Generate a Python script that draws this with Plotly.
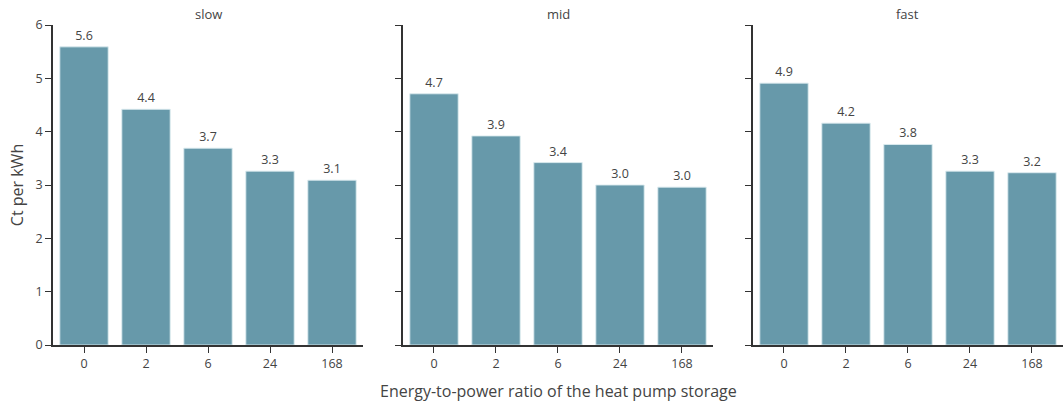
import plotly.graph_objects as go
from plotly.subplots import make_subplots

# Storage energy-to-power ratios (hours) and cost per scenario
ratios = ["0", "2", "6", "24", "168"]
scenarios = ["slow", "mid", "fast"]
cost_slow = [5.59, 4.42, 3.69, 3.26, 3.09]
cost_mid = [4.71, 3.92, 3.42, 3.00, 2.96]
cost_fast = [4.91, 4.16, 3.76, 3.26, 3.23]
y_ticks = [0, 1, 2, 3, 4, 5, 6]

series = [cost_slow, cost_mid, cost_fast]
bar_color = "rgb(103,153,170)"
font_family = "Open Sans"
text_color = "#444444"

fig = make_subplots(rows=1, cols=3, subplot_titles=scenarios,
                    horizontal_spacing=0.0396, shared_yaxes=False)

for i, vals in enumerate(series, start=1):
    fig.add_trace(
        go.Bar(
            x=ratios, y=vals,
            marker=dict(color=bar_color, line=dict(color="rgba(220,235,240,0.9)", width=1)),
            text=vals, texttemplate="%{y:.1f}", textposition="outside",
            textfont=dict(size=12.5, color=text_color, family=font_family),
            cliponaxis=False, showlegend=False,
        ),
        row=1, col=i,
    )
    fig.update_xaxes(
        type="category", showline=True, linecolor="#333333", linewidth=1.5,
        ticks="outside", ticklen=6, tickcolor="#333333",
        tickfont=dict(size=12.5, color=text_color, family=font_family),
        showgrid=False, zeroline=False, row=1, col=i,
    )
    fig.update_yaxes(
        range=[0, 6], tickvals=y_ticks, showline=True, linecolor="#333333",
        linewidth=1.5, ticks="outside", ticklen=6, tickcolor="#333333",
        showticklabels=(i == 1),
        tickfont=dict(size=12.5, color=text_color, family=font_family),
        showgrid=False, zeroline=False, row=1, col=i,
    )

fig.update_yaxes(title=dict(text="Ct per kWh", font=dict(size=16, color=text_color, family=font_family),
                            standoff=8), row=1, col=1)

for ann in fig.layout.annotations:
    ann.font = dict(size=13, color=text_color, family=font_family)

fig.add_annotation(
    text="Energy-to-power ratio of the heat pump storage",
    x=0.5, y=-0.145, xref="paper", yref="paper", xanchor="center", yanchor="middle",
    showarrow=False, font=dict(size=16, color=text_color, family=font_family),
)

fig.update_layout(
    width=1063, height=402,
    margin=dict(l=53, r=0, t=25, b=57),
    bargap=0.22,
    plot_bgcolor="white", paper_bgcolor="white",
    font=dict(family=font_family, color=text_color),
)

fig.write_html("out.html")
